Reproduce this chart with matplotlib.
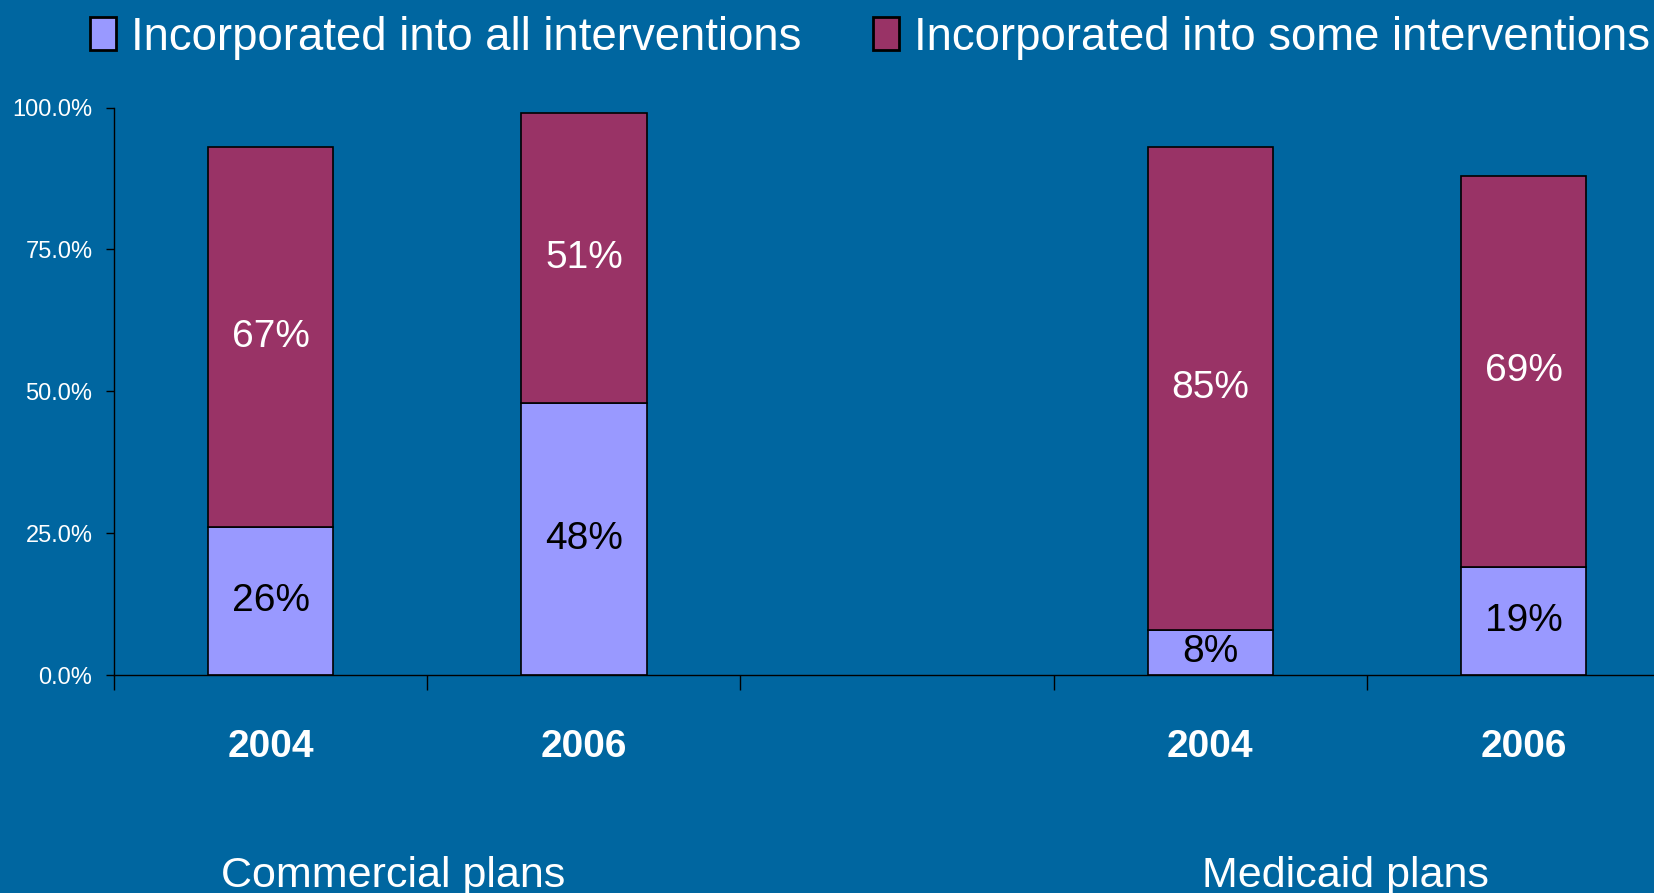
import matplotlib
matplotlib.use('Agg')
import matplotlib.pyplot as plt
import matplotlib.transforms as mtransforms
import numpy as np
from matplotlib.ticker import PercentFormatter, FixedLocator

# plan groups and survey years
years = ['2004', '2006', '2004', '2006']
groups = ['Commercial plans', 'Medicaid plans']
positions = [0, 1, 3, 4]          # slot 2 is left empty between the groups
group_pos = [0.39, 3.43]

all_pct = [26, 48, 8, 19]         # incorporated into all interventions
some_pct = [67, 51, 85, 69]       # incorporated into some interventions
series_names = ['Incorporated into all interventions',
                'Incorporated into some interventions']

bg = '#0066a0'
c_all = '#9999ff'
c_some = '#993366'

plt.rcParams['font.family'] = ['Liberation Sans', 'DejaVu Sans']

fig = plt.figure(figsize=(16.54, 8.93), dpi=100, facecolor=bg)
ax = fig.add_axes([0.0689, 0.2441, 1.0159 - 0.0689, 0.8795 - 0.2441])
ax.set_facecolor(bg)

a = np.array(all_pct) / 100
s = np.array(some_pct) / 100
b1 = ax.bar(positions, a, width=0.4, color=c_all, edgecolor='black', linewidth=1.2,
            label=series_names[0])
b2 = ax.bar(positions, s, bottom=a, width=0.4, color=c_some, edgecolor='black',
            linewidth=1.2, label=series_names[1])

ax.bar_label(b1, labels=[f'{v}%' for v in all_pct], label_type='center',
             color='black', fontsize=28)
ax.bar_label(b2, labels=[f'{v}%' for v in some_pct], label_type='center',
             color='white', fontsize=28)

ax.set_xlim(-0.5, 4.5)
ax.set_ylim(0, 1)
ax.yaxis.set_major_locator(FixedLocator([0, 0.25, 0.5, 0.75, 1.0]))
ax.yaxis.set_major_formatter(PercentFormatter(xmax=1, decimals=1))
ax.tick_params(axis='y', colors='black', labelcolor='white', labelsize=17,
               length=5.5, width=1, pad=10, direction='out')

# year labels at bar centres, tick marks on the slot boundaries
ax.set_xticks(positions)
ax.set_xticklabels(years, fontweight='bold', fontsize=28, color='white')
ax.tick_params(axis='x', which='major', length=0, pad=39)
ax.set_xticks(np.arange(-0.5, 4.6, 1.0), minor=True)
ax.tick_params(axis='x', which='minor', length=10.5, width=1, color='black',
               direction='out')

for sp in ['top', 'right']:
    ax.spines[sp].set_visible(False)
for sp in ['left', 'bottom']:
    ax.spines[sp].set_color('black')
    ax.spines[sp].set_linewidth(1)

# group names along the bottom edge of the figure
group_tr = mtransforms.blended_transform_factory(ax.transData, fig.transFigure)
for g, x in zip(groups, group_pos):
    ax.text(x, 0.0067, g, transform=group_tr, ha='center', va='baseline',
            color='white', fontsize=31)

leg = fig.legend(handles=[b1, b2], loc='center left', bbox_to_anchor=(0.0544, 0.958),
                 ncol=2, frameon=False, fontsize=32.8, handlelength=0.58,
                 handleheight=0.73, handletextpad=0.33, columnspacing=1.56,
                 borderpad=0, borderaxespad=0)
for t in leg.get_texts():
    t.set_color('white')
for h in leg.legend_handles:
    h.set_linewidth(2)

fig.savefig('out.png', dpi=100, facecolor=bg)
